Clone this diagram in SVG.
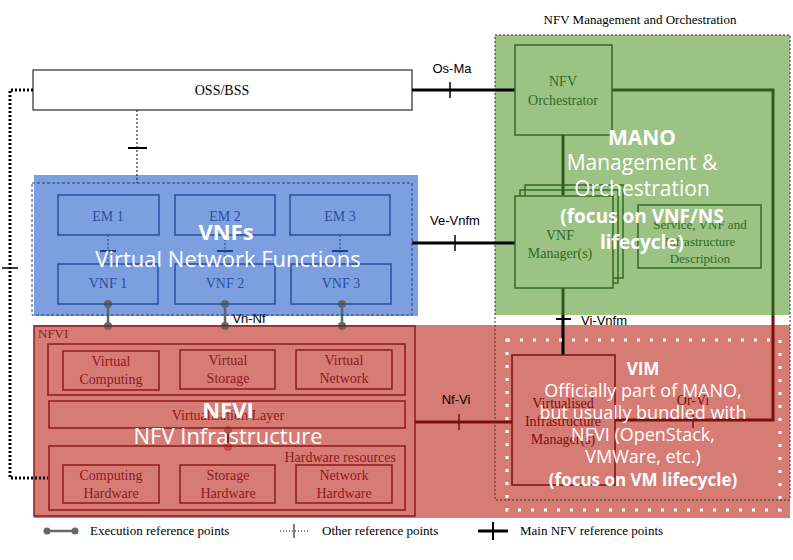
<svg xmlns="http://www.w3.org/2000/svg" width="793" height="560" viewBox="0 0 793 560">
<style>
.s{font-family:"Liberation Serif",serif;font-size:14px;text-anchor:middle}
.sm{font-family:"Liberation Serif",serif;font-size:13px;text-anchor:middle}
.sl{font-family:"Liberation Serif",serif;font-size:13px;text-anchor:start}
.se{font-family:"Liberation Serif",serif;font-size:14px;text-anchor:end}
.a{font-family:"Liberation Sans",sans-serif;font-size:13px;text-anchor:middle}
.ow{font-family:"Open Sans",sans-serif;fill:#fff;text-anchor:middle}
.b{fill:none;stroke:#2a4ea0;stroke-width:1.5}
.r{fill:none;stroke:#8b1a1a;stroke-width:1.5}
.g{fill:none;stroke:#336a22;stroke-width:1.5}
.main{stroke:#000;stroke-width:3;fill:none}
.dot{stroke:#000;stroke-width:3;stroke-dasharray:2 2;fill:none}
</style>
<rect width="793" height="560" fill="#fff"/>
<rect x="34" y="175" width="384" height="141" fill="#7d9fe0"/>
<rect x="495" y="35" width="295" height="280" fill="#9cc384"/>
<rect x="34" y="325" width="756" height="193" fill="#d77c75"/>
<text x="640" y="24" class="sm">NFV Management and Orchestration</text>
<rect x="495" y="35" width="295" height="465" fill="none" stroke="#333" stroke-dasharray="2 2"/>
<g id="connectors">
<path d="M412 90H515" class="main"/><path d="M450 82V98" stroke="#000" stroke-width="1.5"/>
<text x="452" y="73" class="a">Os-Ma</text>
<path d="M33 90H10V478H48" class="dot"/><path d="M2 268H18" stroke="#000" stroke-width="1.5"/>
<path d="M137 110V183" stroke="#000" stroke-dasharray="2 2"/><path d="M128 148H147" stroke="#000" stroke-width="2"/>
<path d="M412 243H515" class="main"/><path d="M455 235V251" stroke="#000" stroke-width="1.5"/>
<text x="455" y="225" class="a">Ve-Vnfm</text>
<g stroke="#1f3f8a" stroke-dasharray="2 2"><path d="M108 235V263M225 235V263M340 235V263"/></g>
<g stroke="#1f3f8a" stroke-width="2"><path d="M100 251H116M217 251H233M332 251H348"/></g>
<g stroke="#666" stroke-width="2.5"><path d="M108 304V326M225 304V326M342 304V326"/></g>
<g fill="#666"><circle cx="108" cy="304" r="4"/><circle cx="108" cy="326" r="4"/><circle cx="225" cy="304" r="4"/><circle cx="225" cy="326" r="4"/><circle cx="342" cy="304" r="4"/><circle cx="342" cy="326" r="4"/></g>
<text x="249" y="323" class="a">Vn-Nf</text>
<path d="M228 430V447" stroke="#8b1a1a" stroke-width="2"/>
<circle cx="228" cy="430" r="4" fill="#c0504d"/><circle cx="228" cy="447" r="4" fill="#c0504d"/>
<path d="M415 422H512" stroke="#7a0f0f" stroke-width="3"/><path d="M459 414V430" stroke="#7a0f0f" stroke-width="1.5"/>
<text x="456" y="404" class="a">Nf-Vi</text>
<path d="M612 90H773V315" stroke="#2e5a1e" stroke-width="3" fill="none"/>
<path d="M773 315V420H615" stroke="#7a0f0f" stroke-width="3" fill="none"/>
<path d="M563 135V195" stroke="#2e5a1e" stroke-width="3"/>
<path d="M563 288V315" stroke="#2e5a1e" stroke-width="3"/><path d="M563 315V355" stroke="#000" stroke-width="3"/><path d="M556 319H571" stroke="#000" stroke-width="2"/>
<text x="604" y="325" class="a">Vi-Vnfm</text>
<path d="M693 412V428" stroke="#7a0f0f" stroke-width="1.5"/>
</g>
<g id="oss"><rect x="33" y="70" width="379" height="40" fill="#fff" stroke="#000"/><text x="222" y="95" class="s">OSS/BSS</text></g>
<g id="vnf">
<rect x="32" y="183" width="380" height="132" fill="none" stroke="#1f3f8a" stroke-dasharray="3 2"/>
<rect x="58" y="195" width="101" height="40" class="b"/><text x="108" y="221" class="s" fill="#2a4ea0">EM 1</text>
<rect x="175" y="195" width="100" height="40" class="b"/><text x="225" y="221" class="s" fill="#2a4ea0">EM 2</text>
<rect x="290" y="195" width="100" height="40" class="b"/><text x="340" y="221" class="s" fill="#2a4ea0">EM 3</text>
<rect x="58" y="264" width="100" height="40" class="b"/><text x="108" y="288" class="s" fill="#2a4ea0">VNF 1</text>
<rect x="175" y="264" width="100" height="40" class="b"/><text x="225" y="288" class="s" fill="#2a4ea0">VNF 2</text>
<rect x="291" y="264" width="100" height="40" class="b"/><text x="341" y="288" class="s" fill="#2a4ea0">VNF 3</text>
</g>
<g id="nfvi">
<rect x="34" y="326" width="381" height="190" class="r"/><text x="38" y="338" class="sl" fill="#8b1a1a">NFVI</text>
<rect x="48" y="344" width="357" height="51" class="r"/>
<rect x="63" y="351" width="96" height="39" class="r"/><text x="111" y="366" class="s" fill="#8b1a1a">Virtual</text><text x="111" y="384" class="s" fill="#8b1a1a">Computing</text>
<rect x="180" y="350" width="95" height="39" class="r"/><text x="228" y="365" class="s" fill="#8b1a1a">Virtual</text><text x="228" y="383" class="s" fill="#8b1a1a">Storage</text>
<rect x="296" y="350" width="96" height="39" class="r"/><text x="344" y="365" class="s" fill="#8b1a1a">Virtual</text><text x="344" y="383" class="s" fill="#8b1a1a">Network</text>
<rect x="49" y="401" width="356" height="27" class="r"/><text x="228" y="420" class="s" fill="#8b1a1a">Virtualisation Layer</text>
<rect x="49" y="446" width="356" height="64" class="r"/><text x="396" y="462" class="se" fill="#8b1a1a">Hardware resources</text>
<rect x="63" y="465" width="96" height="38" class="r"/><text x="111" y="480" class="s" fill="#8b1a1a">Computing</text><text x="111" y="498" class="s" fill="#8b1a1a">Hardware</text>
<rect x="180" y="465" width="95" height="38" class="r"/><text x="228" y="480" class="s" fill="#8b1a1a">Storage</text><text x="228" y="498" class="s" fill="#8b1a1a">Hardware</text>
<rect x="296" y="465" width="96" height="38" class="r"/><text x="344" y="480" class="s" fill="#8b1a1a">Network</text><text x="344" y="498" class="s" fill="#8b1a1a">Hardware</text>
</g>
<g id="mano">
<rect x="515" y="45" width="97" height="90" class="g"/><text x="563" y="86" class="s" fill="#336a22">NFV</text><text x="563" y="105" class="s" fill="#336a22">Orchestrator</text>
<rect x="525" y="185" width="98" height="93" class="g"/><rect x="520" y="190" width="98" height="93" class="g"/>
<rect x="515" y="196" width="98" height="92" fill="#9cc384" stroke="#336a22" stroke-width="1.5"/>
<text x="560" y="240" class="s" fill="#336a22">VNF</text><text x="560" y="258" class="s" fill="#336a22">Manager(s)</text>
<rect x="638" y="205" width="123" height="63" class="g"/>
<text x="700" y="229" class="sm" fill="#336a22">Service, VNF and</text><text x="700" y="246" class="sm" fill="#336a22">Infrastructure</text><text x="700" y="263" class="sm" fill="#336a22">Description</text>
</g>
<g id="vim">
<rect x="512" y="355" width="103" height="130" fill="none" stroke="#7a0f0f" stroke-width="1.5"/>
<text x="563" y="408" class="s" fill="#7a0f0f">Virtualised</text><text x="563" y="426" class="s" fill="#7a0f0f">Infrastructure</text><text x="563" y="444" class="s" fill="#7a0f0f">Manager(s)</text>
<text x="693" y="405" class="s" fill="#7a0f0f">Or-Vi</text>
<rect x="507" y="340" width="273" height="170" fill="none" stroke="#fff" stroke-width="3" stroke-dasharray="3 10"/>
</g>
<g id="overlay">
<text x="226" y="240" class="ow" font-size="22" font-weight="bold">VNFs</text>
<text x="228" y="267" class="ow" font-size="22">Virtual Network Functions</text>
<text x="228" y="418" class="ow" font-size="22" font-weight="bold">NFVI</text>
<text x="228" y="444" class="ow" font-size="22">NFV Infrastructure</text>
<text x="642" y="145" class="ow" font-size="21" font-weight="bold">MANO</text>
<text x="642" y="170" class="ow" font-size="21">Management &amp;</text>
<text x="642" y="196" class="ow" font-size="21">Orchestration</text>
<text x="642" y="223" class="ow" font-size="19" font-weight="bold">(focus on VNF/NS</text>
<text x="642" y="249" class="ow" font-size="19" font-weight="bold">lifecycle)</text>
<text x="643" y="375" class="ow" font-size="17" font-weight="bold">VIM</text>
<text x="643" y="397" class="ow" font-size="18">Officially part of MANO,</text>
<text x="643" y="419" class="ow" font-size="18">but usually bundled with</text>
<text x="643" y="441" class="ow" font-size="18">NFVI (OpenStack,</text>
<text x="643" y="463" class="ow" font-size="18">VMWare, etc.)</text>
<text x="643" y="486" class="ow" font-size="17" font-weight="bold">(focus on VM lifecycle)</text>
</g>
<g id="legend">
<path d="M47 531H75" stroke="#666" stroke-width="2.5"/><circle cx="47" cy="531" r="3.5" fill="#666"/><circle cx="75" cy="531" r="3.5" fill="#666"/>
<text x="90" y="535" class="sl">Execution reference points</text>
<path d="M280 531H310" stroke="#000" stroke-dasharray="1 2"/><path d="M294 524V538" stroke="#000"/>
<text x="322" y="535" class="sl">Other reference points</text>
<path d="M478 531H508" stroke="#000" stroke-width="3"/><path d="M493 522V540" stroke="#000" stroke-width="2"/>
<text x="520" y="535" class="sl">Main NFV reference points</text>
</g>
</svg>
